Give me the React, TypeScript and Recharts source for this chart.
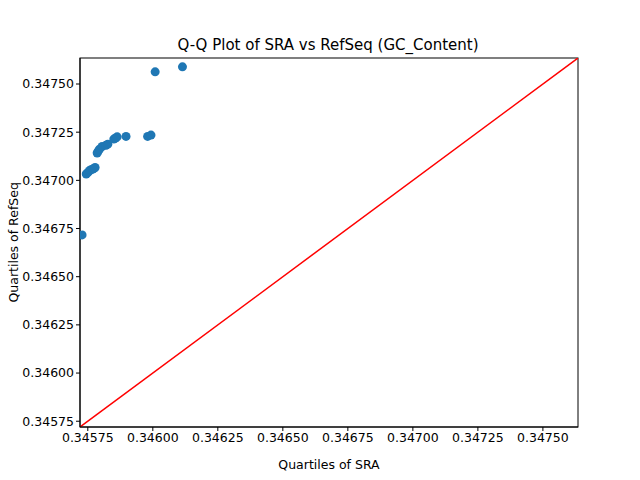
import React from 'react';
import { ScatterChart, Scatter, XAxis, YAxis, ReferenceLine, Customized } from 'recharts';

const sraQuartiles = [0.345728, 0.345744, 0.345750, 0.345756, 0.345762, 0.345769, 0.345774, 0.345778, 0.345786, 0.345790, 0.345795, 0.345805, 0.345820, 0.345827, 0.345850, 0.345857, 0.345863, 0.345897, 0.345980, 0.345993, 0.346009, 0.346114];
const refseqQuartiles = [0.346717, 0.347033, 0.347040, 0.347050, 0.347055, 0.347058, 0.347062, 0.347067, 0.347142, 0.347152, 0.347162, 0.347176, 0.347182, 0.347188, 0.347214, 0.347220, 0.347226, 0.347228, 0.347228, 0.347235, 0.347563, 0.347589];
const xTicks = [0.34575, 0.346, 0.34625, 0.3465, 0.34675, 0.347, 0.34725, 0.3475];
const yTicks = [0.34575, 0.346, 0.34625, 0.3465, 0.34675, 0.347, 0.34725, 0.3475];
const domain: [number, number] = [0.34572, 0.347635];

const data = sraQuartiles.map((x, i) => ({ x, y: refseqQuartiles[i] }));
const fmt = (v: number) => v.toFixed(5);
const font = 'DejaVu Sans';

export default function App() {
  return (
    <div style={{ position: 'absolute', left: 0, top: 0, background: '#fff', fontFamily: font }}>
      <ScatterChart width={640} height={480} margin={{ top: 58, right: 62, bottom: 0, left: 0 }}>
        <XAxis type="number" dataKey="x" domain={domain} ticks={xTicks} tickFormatter={fmt} height={53}
          allowDataOverflow stroke="#000" tick={{ fill: '#000', fontSize: 12.5, fontFamily: font }} tickSize={4}
          label={{ value: 'Quartiles of SRA', position: 'insideBottom', offset: 11, fill: '#000', fontSize: 12.5, fontFamily: font }} />
        <YAxis type="number" dataKey="y" domain={domain} ticks={yTicks} tickFormatter={fmt} width={80}
          allowDataOverflow stroke="#000" tick={{ fill: '#000', fontSize: 12.5, fontFamily: font }} tickSize={4}
          label={{ value: 'Quartiles of RefSeq', angle: -90, position: 'insideLeft', offset: 0, dx: 14, dy: 60, fill: '#000', fontSize: 12.5, fontFamily: font }} />
        <ReferenceLine segment={[{ x: domain[0], y: domain[0] }, { x: domain[1], y: domain[1] }]} stroke="red" strokeWidth={1.5} ifOverflow="hidden" />
        <Scatter data={data} fill="#1f77b4" isAnimationActive={false} shape={(p: any) => <circle cx={p.cx} cy={p.cy} r={4.5} fill="#1f77b4" />} />
        <Customized component={() => (
          <g>
            <rect x={80} y={58} width={498} height={369} fill="none" stroke="#000" strokeWidth={1} />
            <text x={328} y={50} textAnchor="middle" fontSize={15} fontFamily={font} fill="#000">Q-Q Plot of SRA vs RefSeq (GC_Content)</text>
          </g>
        )} />
      </ScatterChart>
    </div>
  );
}
